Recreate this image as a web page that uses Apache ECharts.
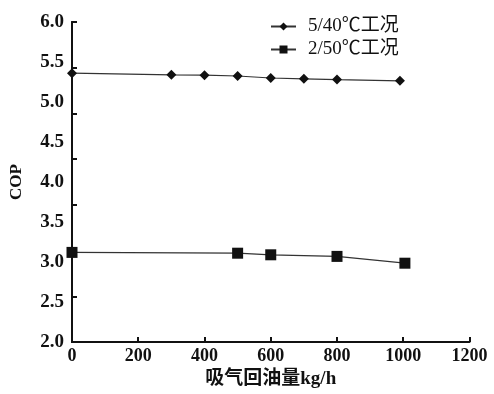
<!DOCTYPE html>
<html>
<head>
<meta charset="utf-8">
<script src="https://cdn.jsdelivr.net/npm/echarts@6/dist/echarts.min.js"></script>
<style>html,body{margin:0;padding:0;background:#fff}#c{width:494px;height:394px}</style>
</head>
<body>
<div id="c"></div>
<script>
var seriesNames = ['5/40℃工况', '2/50℃工况'];
var x1 = [0, 300, 400, 500, 600, 700, 800, 990];
var y1 = [5.36, 5.34, 5.335, 5.325, 5.30, 5.29, 5.28, 5.265];
var x2 = [0, 500, 600, 800, 1005];
var y2 = [3.12, 3.11, 3.09, 3.07, 2.985];
var xTicks = [0, 200, 400, 600, 800, 1000, 1200];
var yTicks = [2.0, 2.5, 3.0, 3.5, 4.0, 4.5, 5.0, 5.5, 6.0];
var xName = '吸气回油量kg/h';
var yName = 'COP';

var FONT = '"Liberation Serif", "Noto Sans CJK SC", serif';
function pairs(xs, ys){ return xs.map(function(v,i){ return [v, ys[i]]; }); }

var chart = echarts.init(document.getElementById('c'));
chart.setOption({
  animation: false,
  backgroundColor: '#fff',
  grid: {left: 66, right: 24.5, top: 22, bottom: 52, containLabel: false},
  legend: {
    left: 265, top: 12, orient: 'vertical', itemGap: 4,
    itemWidth: 25, itemHeight: 10,
    textStyle: {fontFamily: FONT, fontSize: 19, color: '#111', padding: [0, 0, 0, 7]},
    data: seriesNames
  },
  xAxis: {
    type: 'value', min: xTicks[0], max: xTicks[xTicks.length-1], interval: 200,
    name: xName, nameLocation: 'middle', nameGap: 22,
    nameTextStyle: {fontFamily: FONT, fontSize: 19, color: '#111', fontWeight: 'bold'},
    axisLine: {show: true, lineStyle: {color: '#111', width: 2}},
    axisTick: {show: true, inside: true, length: 5, lineStyle: {color: '#111', width: 2}},
    axisLabel: {fontFamily: FONT, fontSize: 18, color: '#111', fontWeight: 'bold', margin: 5,
      formatter: function(v){ return String(v); }},
    splitLine: {show: false}
  },
  yAxis: [{
    type: 'value', min: yTicks[0], max: yTicks[yTicks.length-1], interval: 0.5,
    name: yName, nameLocation: 'middle', nameGap: 47,
    nameTextStyle: {fontFamily: FONT, fontSize: 17, color: '#111', fontWeight: 'bold'},
    axisLine: {show: true, lineStyle: {color: '#111', width: 2}},
    axisTick: {show: false},
    axisLabel: {fontFamily: FONT, fontSize: 19, color: '#111', fontWeight: 'bold', margin: 8,
      formatter: function(v){ return v.toFixed(1); }},
    splitLine: {show: false}
  }, {
    type: 'value', min: 0, max: 7, interval: 1, position: 'left',
    axisLine: {show: true, lineStyle: {color: '#111', width: 2}},
    axisTick: {show: true, inside: true, length: 5, lineStyle: {color: '#111', width: 2}},
    axisLabel: {show: false},
    splitLine: {show: false}
  }],
  series: [{
    name: seriesNames[0], type: 'line', data: pairs(x1, y1),
    symbol: 'diamond', symbolSize: [10, 10],
    itemStyle: {color: '#111'},
    lineStyle: {color: '#333', width: 1.2},
    z: 3
  }, {
    name: seriesNames[1], type: 'line', data: pairs(x2, y2),
    symbol: 'rect', symbolSize: 11,
    itemStyle: {color: '#111'},
    lineStyle: {color: '#333', width: 1.2},
    z: 3
  }]
});
</script>
</body>
</html>
